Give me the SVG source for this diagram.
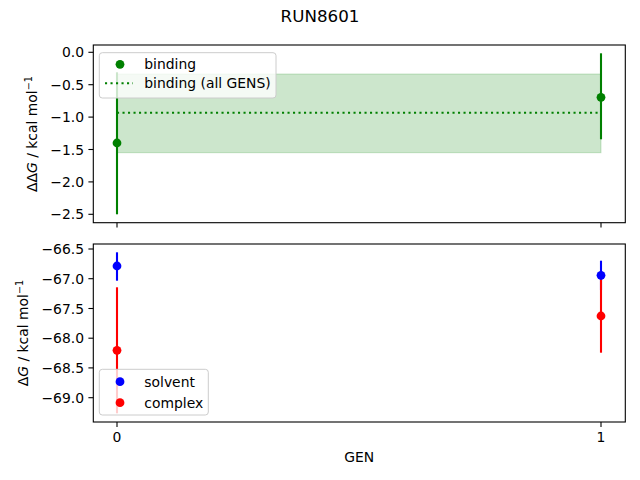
<svg xmlns="http://www.w3.org/2000/svg" width="640" height="480" viewBox="0 0 640 480">
<style>
text{font-family:"DejaVu Sans","Liberation Sans",sans-serif;fill:#000}
.tk{font-size:13.9px}
.yt{text-anchor:end}
.xt{text-anchor:middle}
.ax{fill:none;stroke:#000;stroke-width:1.1}
.tick{stroke:#000;stroke-width:1.1}
.eg{stroke:#008000;stroke-width:2.1}
.eb{stroke:#0000ff;stroke-width:2.1}
.er{stroke:#ff0000;stroke-width:2.1}
.leg{fill:#fff;fill-opacity:0.8;stroke:#cccccc;stroke-width:1}
</style>
<rect width="640" height="480" fill="#fff"/>
<text x="320" y="22" text-anchor="middle" style="font-size:16.7px">RUN8601</text>

<g id="top-axes">
  <rect x="117" y="74" width="484" height="78.7" fill="#008000" fill-opacity="0.2" stroke="#008000" stroke-opacity="0.2" stroke-width="1"/>
  <line x1="117" y1="112.7" x2="601" y2="112.7" stroke="#008000" stroke-width="2.1" stroke-dasharray="2.1,3.4"/>
  <g id="connectors-top">
    <line class="eg" x1="117" y1="72.3" x2="117" y2="214.3"/>
    <line class="eg" x1="601" y1="53.3" x2="601" y2="139.3"/>
  </g>
  <g id="binding-points" fill="#008000">
    <circle cx="117" cy="143" r="4.4"/>
    <circle cx="601" cy="97.3" r="4.4"/>
  </g>
  <rect class="ax" x="93.3" y="45" width="532" height="177.7"/>
  <g id="top-yticks">
    <line class="tick" x1="88.4" y1="52.3" x2="93.3" y2="52.3"/>
    <line class="tick" x1="88.4" y1="84.7" x2="93.3" y2="84.7"/>
    <line class="tick" x1="88.4" y1="117.1" x2="93.3" y2="117.1"/>
    <line class="tick" x1="88.4" y1="149.5" x2="93.3" y2="149.5"/>
    <line class="tick" x1="88.4" y1="181.9" x2="93.3" y2="181.9"/>
    <line class="tick" x1="88.4" y1="214.3" x2="93.3" y2="214.3"/>
    <text class="tk yt" x="84" y="57.3">0.0</text>
    <text class="tk yt" x="84" y="89.7">−0.5</text>
    <text class="tk yt" x="84" y="122.1">−1.0</text>
    <text class="tk yt" x="84" y="154.5">−1.5</text>
    <text class="tk yt" x="84" y="186.9">−2.0</text>
    <text class="tk yt" x="84" y="219.3">−2.5</text>
  </g>
  <line class="tick" x1="117" y1="222.7" x2="117" y2="227.6"/>
  <line class="tick" x1="601" y1="222.7" x2="601" y2="227.6"/>
  <text transform="translate(37,134) rotate(-90)" text-anchor="middle" style="font-size:13.9px">ΔΔ<tspan font-style="italic">G</tspan> / kcal mol<tspan dy="-5" style="font-size:9.7px">−1</tspan></text>
  <g id="top-legend">
    <rect class="leg" x="99.3" y="52.7" width="176.7" height="45.3" rx="3"/>
    <circle cx="120" cy="64.3" r="4.4" fill="#008000"/>
    <text class="tk" x="144.3" y="69.3">binding</text>
    <line x1="105" y1="83.3" x2="133" y2="83.3" stroke="#008000" stroke-width="2.1" stroke-dasharray="2.1,3.4"/>
    <text class="tk" x="144.3" y="88.3">binding (all GENS)</text>
  </g>
</g>

<g id="bottom-axes">
  <g id="connectors-bottom">
    <line class="eb" x1="117" y1="252.3" x2="117" y2="280.7"/>
    <line class="eb" x1="601" y1="260.7" x2="601" y2="290"/>
    <line class="er" x1="117" y1="287.3" x2="117" y2="413.3"/>
    <line class="er" x1="601" y1="279.3" x2="601" y2="352.7"/>
  </g>
  <g id="solvent-points" fill="#0000ff">
    <circle cx="117" cy="266" r="4.4"/>
    <circle cx="601" cy="275.3" r="4.4"/>
  </g>
  <g id="complex-points" fill="#ff0000">
    <circle cx="117" cy="350.3" r="4.4"/>
    <circle cx="601" cy="316" r="4.4"/>
  </g>
  <rect class="ax" x="93.3" y="244" width="532" height="178"/>
  <g id="bottom-yticks">
    <line class="tick" x1="88.4" y1="249" x2="93.3" y2="249"/>
    <line class="tick" x1="88.4" y1="278.7" x2="93.3" y2="278.7"/>
    <line class="tick" x1="88.4" y1="308.5" x2="93.3" y2="308.5"/>
    <line class="tick" x1="88.4" y1="338.2" x2="93.3" y2="338.2"/>
    <line class="tick" x1="88.4" y1="367.9" x2="93.3" y2="367.9"/>
    <line class="tick" x1="88.4" y1="397.7" x2="93.3" y2="397.7"/>
    <text class="tk yt" x="84" y="254">−66.5</text>
    <text class="tk yt" x="84" y="283.7">−67.0</text>
    <text class="tk yt" x="84" y="313.5">−67.5</text>
    <text class="tk yt" x="84" y="343.2">−68.0</text>
    <text class="tk yt" x="84" y="372.9">−68.5</text>
    <text class="tk yt" x="84" y="402.7">−69.0</text>
  </g>
  <line class="tick" x1="117" y1="422" x2="117" y2="426.9"/>
  <line class="tick" x1="601" y1="422" x2="601" y2="426.9"/>
  <text class="tk xt" x="117" y="441.7">0</text>
  <text class="tk xt" x="601" y="441.7">1</text>
  <text class="tk xt" x="359.3" y="461.7">GEN</text>
  <text transform="translate(28,333) rotate(-90)" text-anchor="middle" style="font-size:13.9px">Δ<tspan font-style="italic">G</tspan> / kcal mol<tspan dy="-5" style="font-size:9.7px">−1</tspan></text>
  <g id="bottom-legend">
    <rect class="leg" x="99.3" y="369.3" width="109" height="45.7" rx="3"/>
    <circle cx="120" cy="381.7" r="4.4" fill="#0000ff"/>
    <text class="tk" x="144.3" y="386.7">solvent</text>
    <circle cx="120" cy="402.7" r="4.4" fill="#ff0000"/>
    <text class="tk" x="144.3" y="407.7">complex</text>
  </g>
</g>
</svg>
